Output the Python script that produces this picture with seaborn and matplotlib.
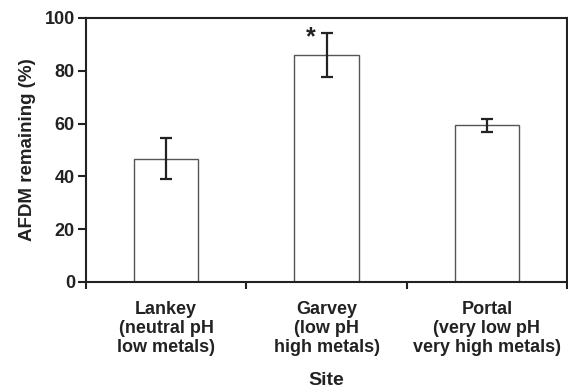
import matplotlib
matplotlib.use("Agg")
import matplotlib.pyplot as plt
import seaborn as sns
import pandas as pd
import numpy as np

sites = ["Lankey\n(neutral pH\nlow metals)", "Garvey\n(low pH\nhigh metals)", "Portal\n(very low pH\nvery high metals)"]
afdm = [46.7, 86.0, 59.3]
err = [7.7, 8.5, 2.5]
yticks = [0, 20, 40, 60, 80, 100]

sns.set_style("white")
plt.rcParams['font.family'] = ['Liberation Sans', 'DejaVu Sans']
plt.rcParams['font.weight'] = 'bold'
txt = '#222222'

df = pd.DataFrame({"site": sites, "afdm": afdm})
fig = plt.figure(figsize=(5.68, 3.91), dpi=100)
ax = fig.add_axes([86/568, 1-282/391, 481/568, 264/391])
sns.barplot(data=df, x="site", y="afdm", ax=ax, color="white", edgecolor="#555555",
            linewidth=1.0, width=0.4, errorbar=None)
ax.errorbar(np.arange(len(sites)), afdm, yerr=err, fmt='none', ecolor='#222222',
            elinewidth=1.6, capsize=4, capthick=1.6, zorder=5)
ax.text(1 - 0.1, 92.5, "*", ha='center', va='center', fontsize=18, fontweight='bold', color=txt)

ax.set_ylim(0, 100)
ax.set_xlim(-0.5, 2.5)
ax.set_yticks(yticks)
ax.set_yticklabels([str(v) for v in yticks], fontsize=13, fontweight='bold', color=txt)
ax.set_xticks([-0.5, 0.5, 1.5, 2.5])
ax.set_xticklabels([])
ax.set_xticks([0, 1, 2], minor=True)
ax.set_xticklabels(sites, minor=True, fontsize=13, fontweight='bold', color=txt, linespacing=1.15)
ax.tick_params(axis='x', which='minor', length=0, pad=14)
ax.tick_params(axis='x', which='major', direction='out', length=5, width=1.5, color='#222222', bottom=True)
ax.tick_params(axis='y', direction='out', length=6, width=1.5, color='#222222', left=True, pad=2)
for s in ax.spines.values():
    s.set_visible(True)
    s.set_color('#222222')
    s.set_linewidth(1.5)
ax.set_xlabel("Site", fontsize=14, fontweight='bold', color=txt, labelpad=11)
ax.set_ylabel("AFDM remaining (%)", fontsize=13.5, fontweight='bold', color=txt, labelpad=6)
fig.savefig("out.png", dpi=100)
